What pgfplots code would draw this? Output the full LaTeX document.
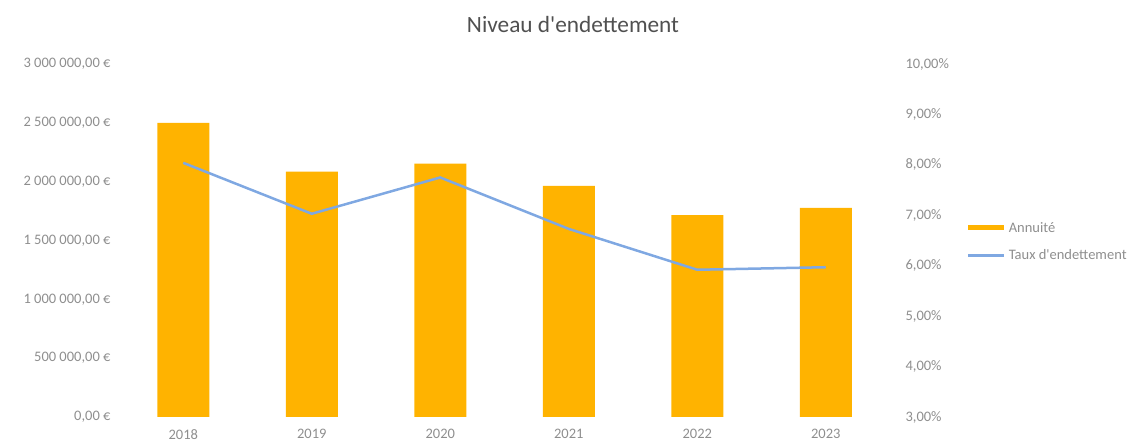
\documentclass[border=0pt]{standalone}
\usepackage{fontspec}
\setmainfont{Carlito}[Ligatures=TeXOff]
\usepackage{pgfplots}
\pgfplotsset{compat=1.18}
\definecolor{barc}{HTML}{FFB300}
\definecolor{linec}{HTML}{7FA8E2}
\definecolor{tickc}{HTML}{8E8E8E}
\definecolor{titlec}{HTML}{505050}

\pgfplotsset{
  common/.style={
    at={(119pt,25pt)}, anchor=south west,
    scale only axis, width=771pt, height=353pt,
    xmin=-0.5, xmax=5.5,
    axis line style={draw=none},
    major tick style={draw=none},
    ticklabel style={font=\fontsize{14.5}{17}\selectfont, text=tickc},
    scaled y ticks=false,
  },
}

\begin{document}
\begin{tikzpicture}[x=1pt,y=1pt]
\path[use as bounding box] (0,0) rectangle (1133,442);
\node[font=\fontsize{23.3}{27}\selectfont, text=titlec] at (573,417) {Niveau d'endettement};

\begin{axis}[common,
  ymin=0, ymax=3000000,
  axis y line*=left, axis x line*=bottom,
  xtick={0,...,5},
  xticklabels={2018,2019,2020,2021,2022,2023},
  xticklabel style={yshift=-9pt},
  ytick={0,500000,1000000,1500000,2000000,2500000,3000000},
  yticklabels={{0,00 €},{500 000,00 €},{1 000 000,00 €},{1 500 000,00 €},{2 000 000,00 €},{2 500 000,00 €},{3 000 000,00 €}},
  yticklabel style={xshift=-5pt},
]
\addplot[ybar, bar width=52pt, fill=barc, draw=none] coordinates {
  (0,2500000) (1,2086000) (2,2153000) (3,1965000) (4,1715000) (5,1777000)
};
\end{axis}

\begin{axis}[common,
  ymin=3, ymax=10,
  axis y line*=right, axis x line=none,
  ytick={3,...,10},
  yticklabels={{3,00\%},{4,00\%},{5,00\%},{6,00\%},{7,00\%},{8,00\%},{9,00\%},{10,00\%}},
  yticklabel style={xshift=12pt},
  legend style={draw=none, fill=none, at={(1.098,0.497)}, anchor=west,
    font=\fontsize{14.5}{17}\selectfont, text=tickc, row sep=12pt, inner sep=0pt},
  legend cell align=left,
  legend image code/.code={\draw[#1] (0pt,0pt) -- (36pt,0pt);},
]
\addlegendimage{barc, line width=5pt}
\addlegendentry{Annuité}
\addplot[linec, line width=2.5pt, no marks] coordinates {
  (0,8.04) (1,7.03) (2,7.75) (3,6.73) (4,5.92) (5,5.97)
};
\addlegendentry{Taux d'endettement}
\end{axis}
\end{tikzpicture}
\end{document}
